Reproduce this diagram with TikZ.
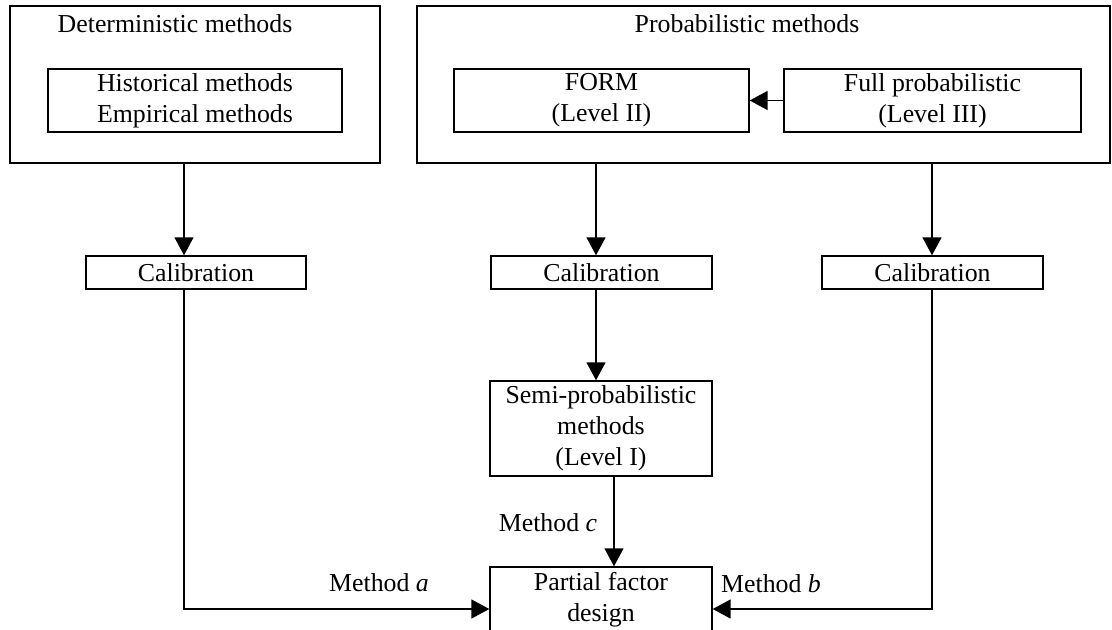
\documentclass[tikz,border=0pt]{standalone}
\usepackage{fontspec}
\setmainfont{Liberation Serif}
\usetikzlibrary{arrows.meta}

\begin{document}
\begin{tikzpicture}[x=0.02cm,y=-0.02cm,line width=0.8pt,
		every node/.style={font=\fontsize{14.7}{17.6}\selectfont,align=center,inner sep=0pt},
		box/.style={draw,rectangle,minimum height=#1},
		box/.default=0.66cm,
		arr/.style={-{Triangle[length=0.36cm,width=0.38cm]}}]
		\clip (0,0) rectangle (1112,629);

		% outer groups
		\node[box=3.14cm,minimum width=7.4cm] (det) at (195,84.5) {};
		\node (dettitle) at (175,24) {Deterministic methods};
		\node[box=3.14cm,minimum width=13.86cm] (prob) at (763.5,84.5) {};
		\node (probtitle) at (747,24) {Probabilistic methods};

		\node[box=1.26cm,minimum width=5.88cm] (hist) at (195,100.5) {Historical methods\\Empirical methods};
		\node[box=1.26cm,minimum width=5.9cm] (form) at (601.5,100.5) {FORM\\(Level II)};
		\node[box=1.26cm,minimum width=5.94cm] (full) at (932.5,100.5) {Full probabilistic\\(Level III)};

		\node[box,minimum width=4.4cm] (cal1) at (196,272.5) {Calibration};
		\node[box,minimum width=4.42cm] (cal2) at (601.5,272.5) {Calibration};
		\node[box,minimum width=4.42cm] (cal3) at (932.5,272.5) {Calibration};

		\node[box=1.9cm,minimum width=4.44cm] (semi) at (601,428.5) {Semi-probabilistic\\methods\\(Level I)};
		\node[box=1.32cm,minimum width=4.44cm] (part) at (601,600) {Partial factor\\design};

		\coordinate (xa) at (184,609);
		\coordinate (xc) at (614,0);
		\coordinate (xb) at (932,609);
		\coordinate (xf) at (596,0);

		\draw[arr] (full.west) -- (form.east);

		\draw[arr] (det.south -| xa) -- (cal1.north -| xa);
		\draw[arr] (prob.south -| xf) -- (cal2.north -| xf);
		\draw[arr] (prob.south -| xb) -- (cal3.north -| xb);

		\draw[arr] (cal2.south -| xf) -- (semi.north -| xf);
		\draw[arr] (semi.south -| xc) -- (part.north -| xc);

		\draw[arr] (cal1.south -| xa) -- (xa) -- (xa -| part.west);
		\draw[arr] (cal3.south -| xb) -- (xb) -- (xb -| part.east);

		\node (metha) at (379,583) {Method \textit{a}};
		\node (methc) at (548,523) {Method \textit{c}};
		\node (methb) at (771,584) {Method \textit{b}};
	\end{tikzpicture}
\end{document}
